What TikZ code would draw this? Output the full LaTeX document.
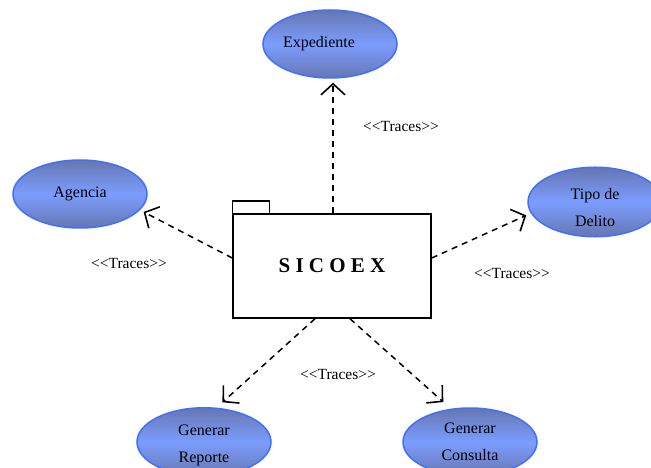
\documentclass[tikz,border=0pt]{standalone}
\usepackage{fontspec}
\setmainfont{Liberation Serif}
\usepackage{tikz}
\usetikzlibrary{shapes,arrows.meta,positioning,calc}

\definecolor{casoborde}{HTML}{4070FF}
\definecolor{casooscuro}{HTML}{6676B0}
\definecolor{casoclaro}{HTML}{7C9DFF}

\begin{document}
\begin{tikzpicture}[
    x=1pt, y=-1pt,
    caso/.style={ellipse, draw=casoborde, line width=1.5pt, shading=axis,
        top color=casooscuro, bottom color=casooscuro, middle color=casoclaro,
        minimum width=134pt, minimum height=68pt, inner sep=0pt, align=center,
        font=\fontsize{16}{27}\selectfont},
    paquete/.style={rectangle, draw, line width=1.5pt, fill=white,
        minimum width=198pt, minimum height=104pt, inner sep=0pt,
        font=\fontsize{21}{24}\selectfont\bfseries},
    traza/.style={draw, line width=1.5pt, dash pattern=on 6pt off 5pt,
        -{Straight Barb[length=11pt,width=24pt,line width=1.6pt]}},
    etiqueta/.style={font=\fontsize{15.5}{17}\selectfont},
]
    \useasboundingbox (0,0) rectangle (651,468);

    % Package in the middle
    \node[paquete] (sicoex) at (332,266) {S I C O E X};
    \draw[line width=1.5pt] (sicoex.north west) rectangle ++(37,-12);

    % Use cases around it
    \node[caso] (expediente) at (330,44) {Expediente\hspace*{22pt}};
    \node[caso] (agencia) at (80,194) {Agencia};
    \node[caso] (delito) at (595,202) {\rule{0pt}{22pt}Tipo de\\Delito};
    \node[caso] (reporte) at (204,442) {\rule{0pt}{18pt}Generar\\Reporte};
    \node[caso] (consulta) at (470,442) {Generar\\Consulta};

    % Trace dependencies
    \draw[traza, shorten >=4pt] ([xshift=1pt]sicoex.north) -- ([xshift=1pt]sicoex.north |- expediente.south);
    \draw[traza, shorten >=4pt] ([yshift=8pt]sicoex.west) -- (agencia.-15);
    \draw[traza, shorten >=5pt] ([yshift=8pt]sicoex.east) -- (delito.190);
    \draw[traza, shorten >=8pt] ([xshift=-17pt]sicoex.south) -- (reporte.70);
    \draw[traza, shorten >=10pt] ([xshift=18pt]sicoex.south) -- (consulta.120);

    % Stereotype labels
    \node[etiqueta] (t1) at (401,127) {<{}<Traces>{}>};
    \node[etiqueta] (t2) at (129,264) {<{}<Traces>{}>};
    \node[etiqueta] (t3) at (512,274) {<{}<Traces>{}>};
    \node[etiqueta] (t4) at (338,374) {<{}<Traces>{}>};

\end{tikzpicture}
\end{document}
